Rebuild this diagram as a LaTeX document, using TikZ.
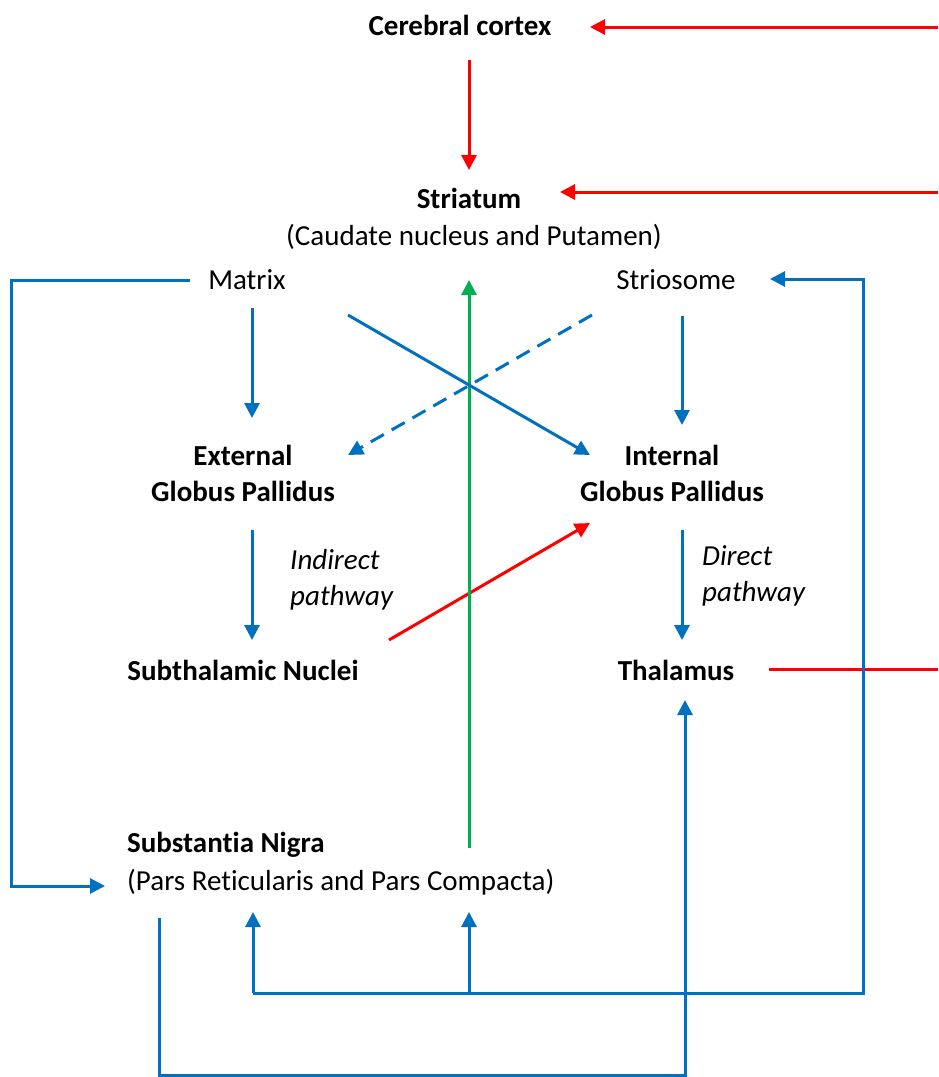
\documentclass[tikz,border=0pt]{standalone}
\usepackage{fontspec}
\setmainfont[Ligatures=NoCommon]{Carlito}
\usetikzlibrary{arrows.meta}
\definecolor{cred}{HTML}{FF0000}
\definecolor{cblue}{HTML}{0070C0}
\definecolor{cgreen}{HTML}{00B050}
\begin{document}
\begin{tikzpicture}[x=1pt,y=-1pt,
  lbl/.style={inner sep=0pt,font=\fontsize{29}{36}\selectfont},
  bl/.style={lbl,font=\fontsize{29}{36}\selectfont\bfseries},
  il/.style={lbl,font=\fontsize{29}{36}\selectfont\itshape,align=left},
  conn/.style={line width=3pt,-{Triangle[length=15pt,width=15pt]}},
  plain/.style={line width=3pt},
  redc/.style={color=cred},
  bluec/.style={color=cblue},
  greenc/.style={color=cgreen}]
\path[use as bounding box] (0,0) rectangle (938,1077);
% text nodes
\node[bl] (cortex) at (460,25) {Cerebral cortex};
\node[bl] (striatum) at (469,198) {Striatum};
\node[lbl] (caudate) at (474,237) {(Caudate nucleus and Putamen)};
\node[lbl] (matrix) at (247,280) {Matrix};
\node[lbl] (striosome) at (676,280) {Striosome};
\node[bl,align=center] (gpe) at (243,473) {External\\Globus Pallidus};
\node[bl,align=center] (gpi) at (672,473) {Internal\\Globus Pallidus};
\node[il,anchor=west] (indirect) at (290,580) {Indirect\\pathway};
\node[il,anchor=west] (direct) at (702,576) {Direct\\pathway};
\node[bl] (stn) at (243,670) {Subthalamic Nuclei};
\node[bl] (thal) at (676,670) {Thalamus};
\node[bl,anchor=west] (sn) at (127,845) {Substantia Nigra};
\node[lbl,anchor=west] (snsub) at (127,882) {(Pars Reticularis and Pars Compacta)};
% coordinates
\coordinate (e1) at (938,27);
\coordinate (e2) at (938,192);
\coordinate (e3) at (938,669);
% red connectors
\draw[conn,redc] (e1) -- (590,27);
\draw[conn,redc] (469,60) -- (469,170);
\draw[conn,redc] (e2) -- (560,192);
\draw[plain,redc] (769,669) -- (e3);
\draw[conn,redc] (389,640) -- (590,523);
% green
\draw[conn,greenc] (469,848) -- (469,280);
% blue
\draw[conn,bluec] (252,308) -- (252,418);
\draw[conn,bluec] (682,316) -- (682,425);
\draw[conn,bluec] (348,315) -- (590,455);
\draw[conn,bluec,dash pattern=on 15pt off 9pt] (592,315) -- (348,455);
\draw[conn,bluec] (252,530) -- (252,640);
\draw[conn,bluec] (682,530) -- (682,640);
\draw[conn,bluec,line join=miter] (190,280) -- (11,280) -- (11,886) -- (105,886);
\draw[conn,bluec,line join=miter] (253,993) -- (253,912);
\draw[conn,bluec] (469,993) -- (469,912);
\draw[conn,bluec,line join=miter] (253,993) -- (863,993) -- (863,279) -- (770,279);
\draw[conn,bluec,line join=miter] (159,918) -- (159,1075) -- (685,1075) -- (685,700);
\end{tikzpicture}
\end{document}
